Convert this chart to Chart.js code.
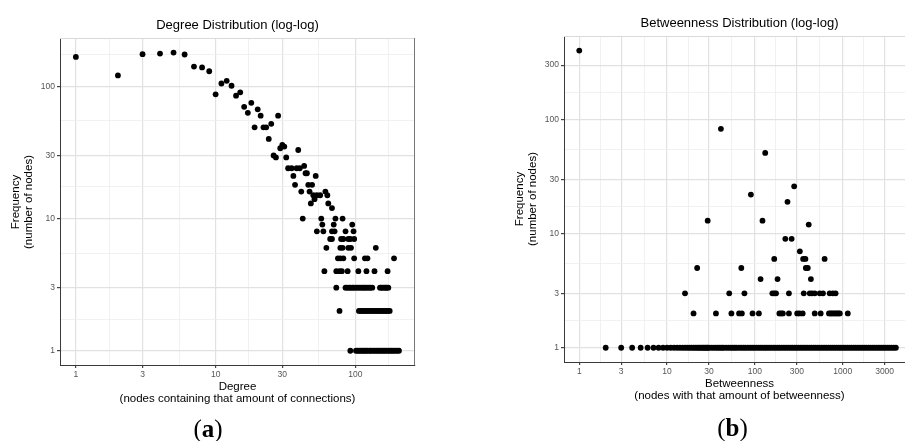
<!DOCTYPE html>
<html>
<head>
  <title>Degree and Betweenness Distributions (log-log)</title>
  <script src="https://cdn.jsdelivr.net/npm/chart.js"></script>
  <style>
    body { margin: 0; width: 905px; height: 441px; overflow: hidden; background: #fff; position: relative;
           font-family: 'Liberation Sans', Arial, sans-serif; color: #000; }
    .box { position: absolute; top: 0; height: 441px; }
    .txt { position: absolute; transform: translate(-50%, -50%); white-space: nowrap; line-height: 1; }
    .rot { transform: translate(-50%, -50%) rotate(-90deg); }
    .title { font-size: 13px; }
    .axis { font-size: 11.5px; }
    .tag { font-family: 'Liberation Serif', 'DejaVu Serif', serif; font-size: 25px; }
  </style>
</head>
<body>
  <div class="box" style="left:0;width:450px"><canvas id="degreeChart"></canvas></div>
  <div class="box" style="left:450px;width:465px"><canvas id="betweennessChart"></canvas></div>

  <div class="txt title" style="left:237.5px;top:24px">Degree Distribution (log-log)</div>
  <div class="txt axis" style="left:237.5px;top:386.5px">Degree</div>
  <div class="txt axis" style="left:237.5px;top:398.5px">(nodes containing that amount of connections)</div>
  <div class="txt axis rot" style="left:16px;top:202px">Frequency</div>
  <div class="txt axis rot" style="left:29px;top:202px">(number of nodes)</div>
  <div class="txt tag" style="left:208px;top:428px">(<b>a</b>)</div>

  <div class="txt title" style="left:739.5px;top:22px">Betweenness Distribution (log-log)</div>
  <div class="txt axis" style="left:739.5px;top:383.5px">Betweenness</div>
  <div class="txt axis" style="left:739.5px;top:395.5px">(nodes with that amount of betweenness)</div>
  <div class="txt axis rot" style="left:520px;top:199px">Frequency</div>
  <div class="txt axis rot" style="left:532.5px;top:199px">(number of nodes)</div>
  <div class="txt tag" style="left:732.5px;top:427px">(<b>b</b>)</div>

  <script>
    // ---- degree distribution (a) ----
    // scattered part: degree -> number of nodes
    const degreeX = [1, 2, 3, 4, 5, 6, 7, 8, 9, 10, 11, 12, 13, 14, 15, 16, 17, 18, 19, 20,
      21, 22, 23, 24, 25, 26, 27, 28, 29, 30, 31, 32, 33, 35, 36, 37, 38, 39, 40, 41,
      43, 44, 45, 46, 47, 48, 49, 50, 51, 52, 53, 56, 61, 63, 64, 68];
    const degreeY = [167, 121, 175, 177, 180, 174, 141, 139, 130, 87, 105, 110, 101, 85, 90, 70, 63, 75, 49, 67,
      60, 49, 49, 40, 52, 30, 29, 60, 34, 36, 35, 29, 24, 24, 21, 18, 24, 33, 24, 16,
      25, 22, 22, 18, 16, 13, 18, 15, 14, 21, 15, 15, 16, 15, 13, 12];
    // degrees that share the same small frequency
    const degreeRow10 = [42, 57, 72, 81];
    const degreeRow9 = [58, 70, 95];
    const degreeRow8 = [53, 59, 68, 71, 85, 97];
    const degreeRow7 = [66, 68, 79, 82, 89, 92, 98];
    const degreeRow6 = [62, 78, 81, 89, 93, 140];
    const degreeRow5 = [75, 78, 82, 98, 117, 122, 189];
    const degreeRow4 = [60, 73, 77, 80, 88, 105, 120, 137, 170];
    const degreeRow3 = [73, 85, 87, 90, 92, 95, 97, 100, 103, 106, 109, 112, 115, 118, 121, 125, 128, 132,
      150, 153, 157, 161, 165, 168, 172];
    const degreeRow2 = [77, 106, 109, 112, 115, 118, 121, 124, 128, 131, 135, 139, 143, 147, 151, 155, 159,
      163, 167, 171, 176];
    const degreeRow1 = [92, 101, 104, 107, 110, 113, 116, 119, 122, 126, 129, 133, 137, 141, 145, 149, 153,
      158, 162, 167, 172, 177, 182, 187, 193, 199, 205];

    // ---- betweenness distribution (b) ----
    const betweennessX = [1, 41, 131, 280, 90, 235, 29, 122, 410, 222, 262, 325, 166, 354, 376, 622,
      22, 70, 380, 400, 116, 181, 434];
    const betweennessY = [402, 83, 51, 26, 22, 19, 13, 13, 12, 9, 9, 7, 6, 6, 6, 6,
      5, 5, 5, 5, 4, 4, 4];
    const betweennessRow3 = [16, 51, 76, 158, 166, 174, 244, 360, 421, 447, 480, 547, 596, 710, 773, 830];
    const betweennessRow2 = [20, 36, 54, 66, 71, 94, 111, 190, 199, 208, 244, 303, 322, 350, 480, 561,
      697, 725, 755, 790, 822, 858, 892, 927, 1142];
    const betweennessRow1 = [2, 3, 4, 5, 6, 7, 8, 9, 10, 11, 12, 13, 14, 15, 16, 17, 18, 19, 20, 21, 22, 23,
      24, 25, 26, 27, 28, 29, 30, 32, 34, 36, 38, 40, 42, 44, 47, 50, 53, 56, 59, 62, 66, 70, 74, 78,
      83, 88, 93, 98, 104, 110, 116, 123, 130, 137, 145, 153, 162, 171, 181, 191, 202, 214, 226, 239,
      253, 267, 282, 298, 315, 333, 352, 372, 393, 416, 440, 465, 491, 519, 549, 580, 613, 648, 685,
      724, 765, 809, 855, 904, 955, 1010, 1067, 1128, 1192, 1260, 1332, 1408, 1488, 1573, 1662, 1757,
      1857, 1963, 2074, 2192, 2317, 2449, 2588, 2735, 2891, 3055, 3229, 3413, 3607, 3812, 4030];

    // axis breaks (labelled) and the in-between grid lines
    const degreeBreaks = [1, 3, 10, 30, 100];
    const freqBreaksA = [1, 3, 10, 30, 100];
    const betweennessBreaks = [1, 3, 10, 30, 100, 300, 1000, 3000];
    const freqBreaksB = [1, 3, 10, 30, 100, 300];
    const minorBreaks = [1.732, 5.477, 17.32, 54.77, 173.2, 547.7, 1732, 5477];

    const FONT = "'Liberation Sans', Arial, sans-serif";

    function points(xs, ys) {
      return xs.map((x, i) => ({ x: x, y: ys[i] }));
    }
    function row(xs, y) {
      return xs.map(x => ({ x: x, y: y }));
    }

    function logAxis(min, max, majors, fit) {
      const isMajor = c => c.tick && majors.includes(c.tick.value);
      return {
        type: 'logarithmic',
        min: min,
        max: max,
        afterBuildTicks: s => {
          s.ticks = majors.concat(minorBreaks)
            .filter(v => v >= min && v <= max)
            .sort((a, b) => a - b)
            .map(v => ({ value: v }));
        },
        afterFit: fit,
        ticks: {
          autoSkip: false,
          maxRotation: 0,
          color: '#555',
          font: { family: FONT, size: 8.5 },
          padding: 2,
          callback: v => majors.includes(v) ? String(v) : ''
        },
        grid: {
          color: c => isMajor(c) ? '#e1e1e1' : '#eeeeee',
          lineWidth: c => isMajor(c) ? 1.2 : 0.8,
          tickLength: 3,
          tickColor: c => isMajor(c) ? '#444' : 'rgba(0,0,0,0)'
        },
        border: { color: '#3a3a3a', width: 1 }
      };
    }

    // top edge light, right edge mid grey (left/bottom come from the axes)
    const frame = {
      id: 'frame',
      afterDraw(chart) {
        const ctx = chart.ctx, a = chart.chartArea;
        ctx.save();
        ctx.lineWidth = 1;
        ctx.strokeStyle = '#d9d9d9';
        ctx.beginPath(); ctx.moveTo(a.left, a.top + 0.5); ctx.lineTo(a.right, a.top + 0.5); ctx.stroke();
        ctx.strokeStyle = '#777';
        ctx.beginPath(); ctx.moveTo(a.right - 0.5, a.top); ctx.lineTo(a.right - 0.5, a.bottom); ctx.stroke();
        ctx.restore();
      }
    };

    function scatter(id, data, x, y, padding) {
      return new Chart(document.getElementById(id), {
        type: 'scatter',
        data: {
          datasets: [{
            data: data,
            pointRadius: 2.9,
            pointHoverRadius: 2.9,
            pointBackgroundColor: '#000',
            pointBorderWidth: 0
          }]
        },
        options: {
          responsive: true,
          maintainAspectRatio: false,
          animation: false,
          events: [],
          layout: { padding: padding },
          scales: { x: x, y: y },
          plugins: { legend: { display: false }, tooltip: { enabled: false } }
        },
        plugins: [frame]
      });
    }

    scatter('degreeChart',
      points(degreeX, degreeY)
        .concat(row(degreeRow10, 10), row(degreeRow9, 9), row(degreeRow8, 8), row(degreeRow7, 7),
                row(degreeRow6, 6), row(degreeRow5, 5), row(degreeRow4, 4), row(degreeRow3, 3),
                row(degreeRow2, 2), row(degreeRow1, 1)),
      logAxis(0.77, 267, degreeBreaks, s => { s.height = 76; }),
      logAxis(0.78, 232, freqBreaksA, s => { s.width = 60; }),
      { left: 0, top: 38, right: 35, bottom: 0 });

    scatter('betweennessChart',
      points(betweennessX, betweennessY)
        .concat(row(betweennessRow3, 3), row(betweennessRow2, 2), row(betweennessRow1, 1)),
      logAxis(0.67, 6166, betweennessBreaks, s => { s.height = 79; }),
      logAxis(0.75, 540, freqBreaksB, s => { s.width = 114; }),
      { left: 0, top: 36, right: 0, bottom: 0 });
  </script>
</body>
</html>
